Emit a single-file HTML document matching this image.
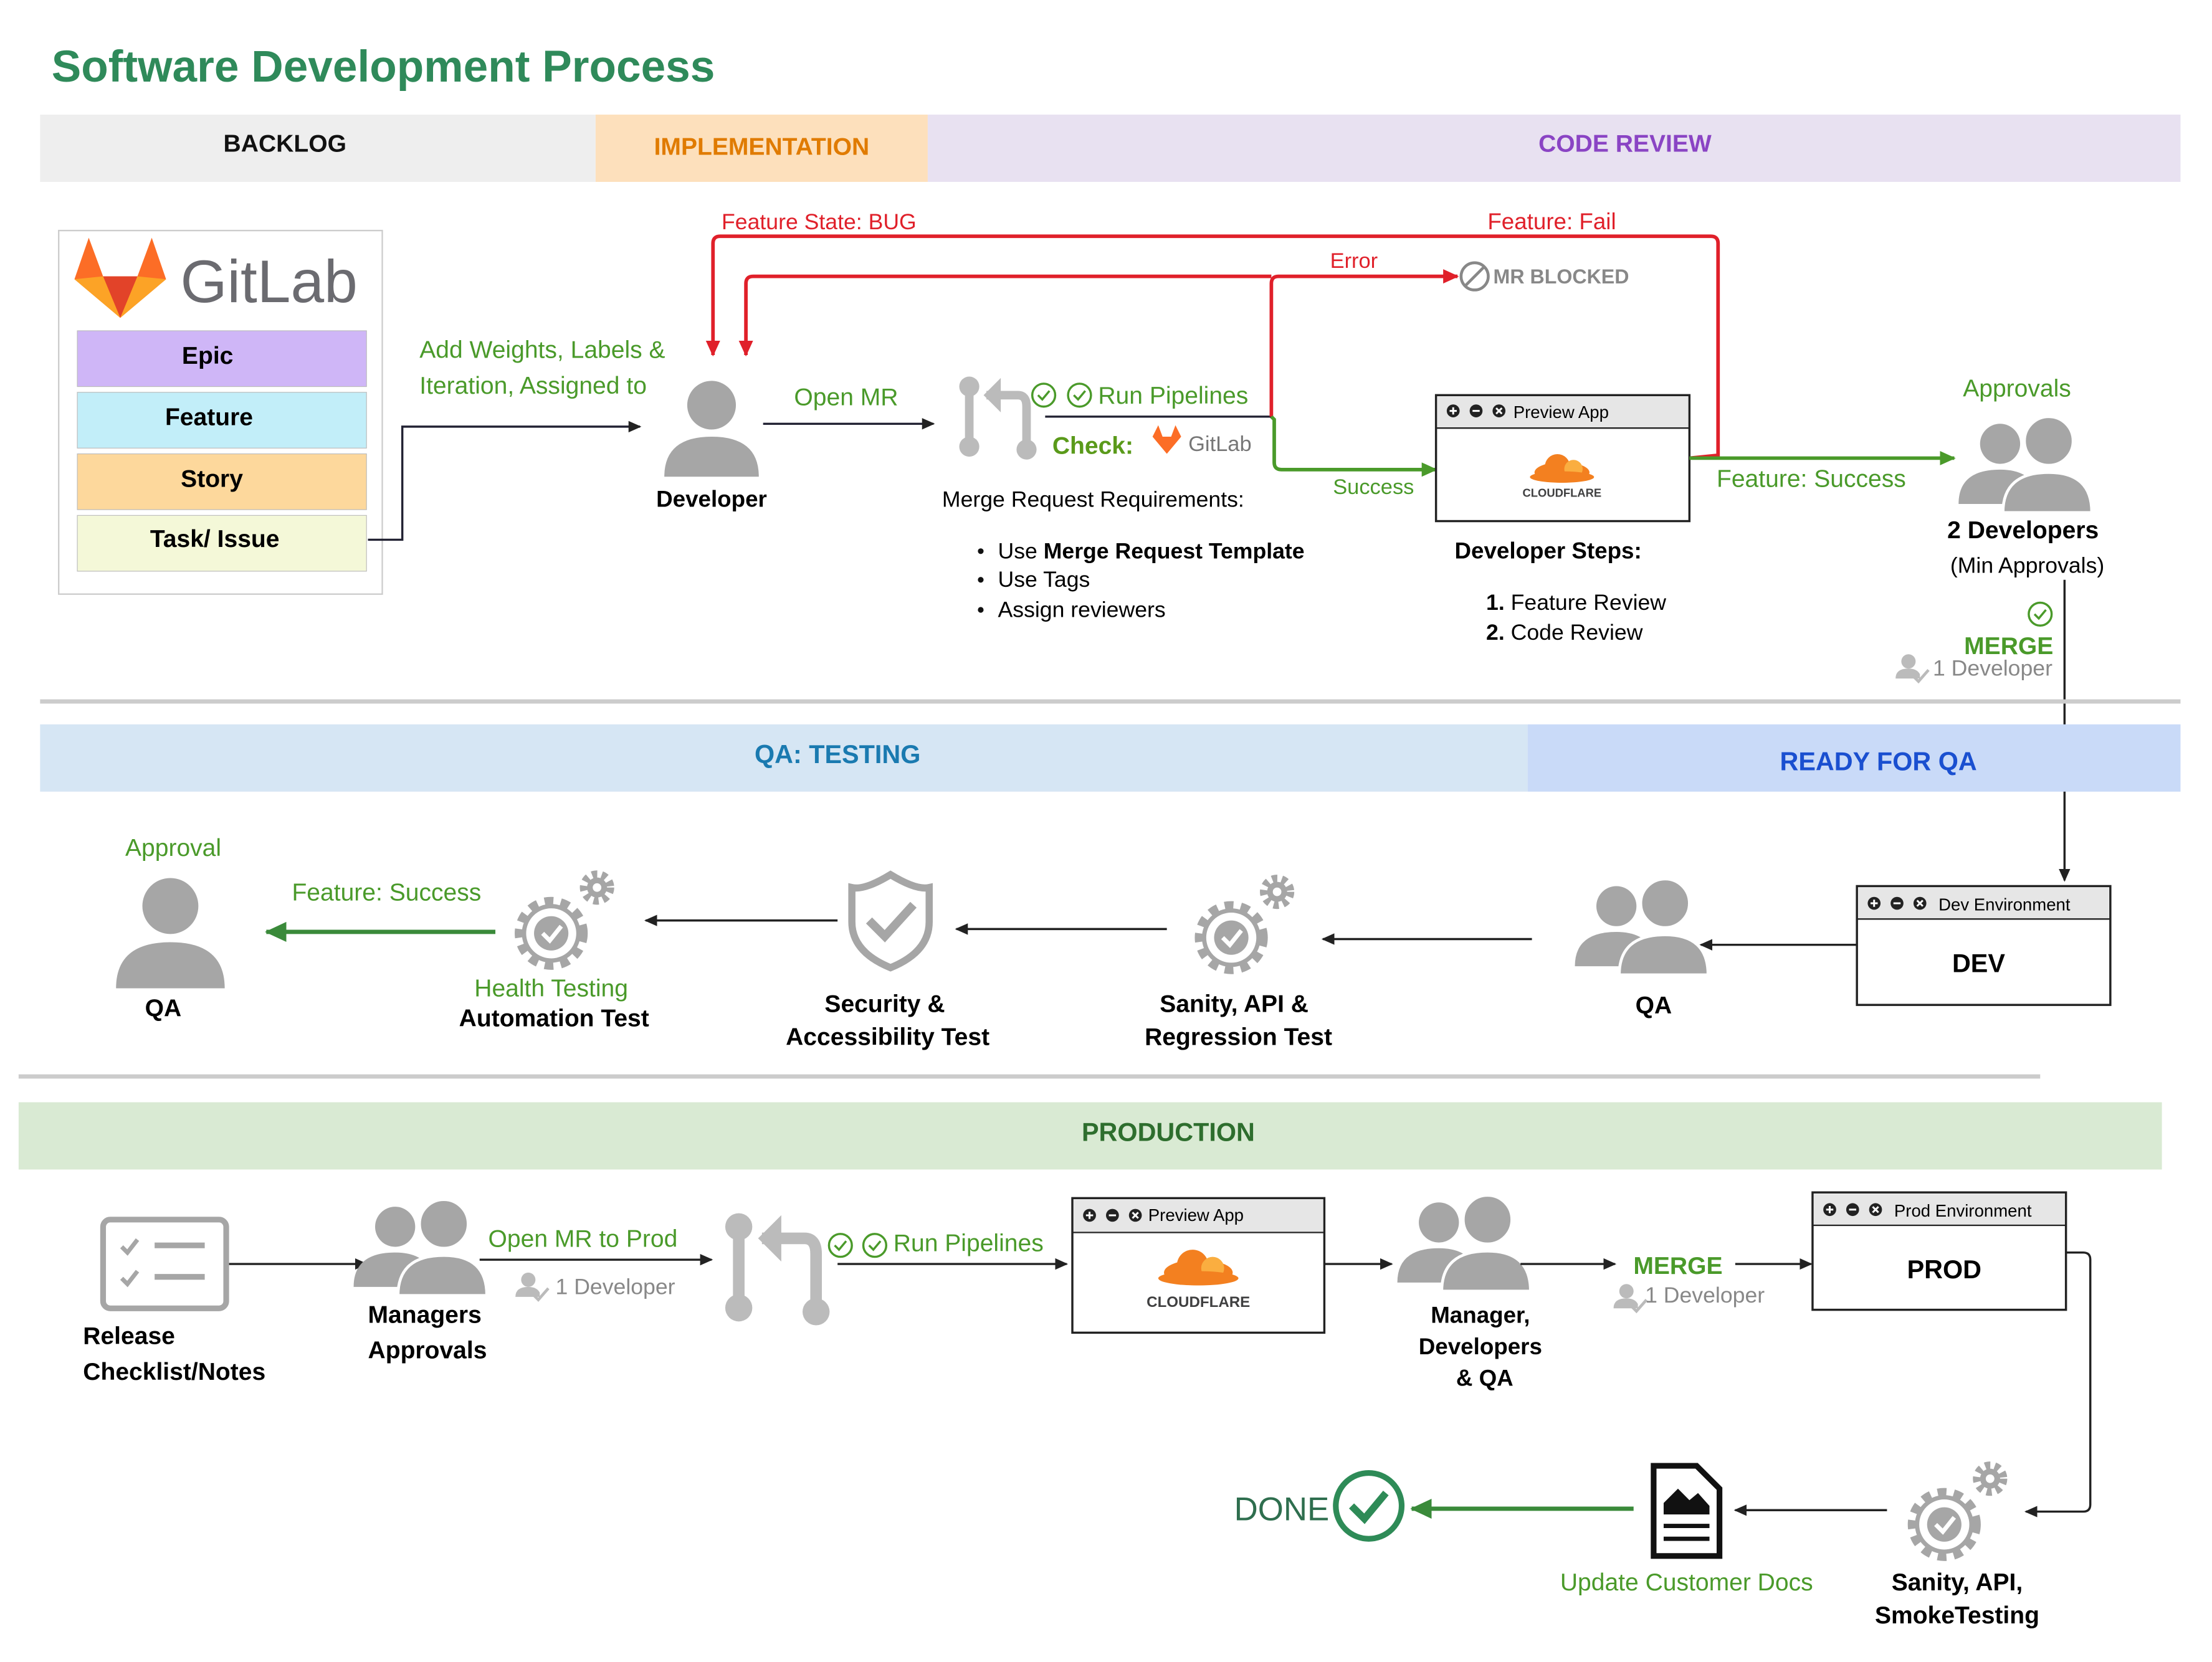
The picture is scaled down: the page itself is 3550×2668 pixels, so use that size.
<!DOCTYPE html>
<html><head><meta charset="utf-8"><style>
html,body{margin:0;padding:0;background:#fff}
svg{display:block}
text{font-family:"Liberation Sans",Arial,sans-serif}
</style></head><body>
<svg width="3550" height="2668" viewBox="0 0 1545 1161" xmlns="http://www.w3.org/2000/svg">
<defs>
<marker id="ad" markerWidth="10" markerHeight="10" refX="8" refY="5" orient="auto" markerUnits="userSpaceOnUse"><path d="M0,1 L9,5 L0,9 Z" fill="#222"/></marker>
<marker id="ag" markerWidth="12" markerHeight="12" refX="10" refY="6" orient="auto" markerUnits="userSpaceOnUse"><path d="M0,1 L11,6 L0,11 Z" fill="#4a9a2a"/></marker>
<marker id="agd" markerWidth="16" markerHeight="16" refX="14" refY="8" orient="auto" markerUnits="userSpaceOnUse"><path d="M0,1 L15,8 L0,15 Z" fill="#3a8a3a"/></marker>
<marker id="ar" markerWidth="12" markerHeight="12" refX="10" refY="6" orient="auto" markerUnits="userSpaceOnUse"><path d="M0,1 L11,6 L0,11 Z" fill="#e0202a"/></marker>
<g id="person"><circle cx="0" cy="-14" r="17" fill="#a6a6a6"/><path d="M-33,36 Q-33,8 0,8 Q33,8 33,36 Z" fill="#a6a6a6"/></g>
<g id="two"><circle cx="-16" cy="-12" r="14" fill="#a6a6a6"/><path d="M-45,30 Q-45,6 -16,6 Q10,6 12,30 Z" fill="#a6a6a6"/><circle cx="18" cy="-14" r="17" fill="#a6a6a6" stroke="#fff" stroke-width="2"/><path d="M-14,36 Q-14,8 18,8 Q48,8 48,36 Z" fill="#a6a6a6" stroke="#fff" stroke-width="2"/></g>
<g id="gear"><circle cx="0" cy="0" r="22" fill="none" stroke="#a6a6a6" stroke-width="7" stroke-dasharray="6 5"/><circle cx="0" cy="0" r="19" fill="#fff" stroke="#a6a6a6" stroke-width="3"/><circle cx="0" cy="0" r="12" fill="#a6a6a6"/><path d="M-6,0 L-1,5 L7,-5" stroke="#fff" stroke-width="3" fill="none"/><circle cx="32" cy="-32" r="9" fill="none" stroke="#a6a6a6" stroke-width="6" stroke-dasharray="3.5 3"/><circle cx="32" cy="-32" r="7" fill="#a6a6a6"/><circle cx="32" cy="-32" r="3" fill="#fff"/></g>
<g id="chk"><circle cx="0" cy="0" r="8" fill="none" stroke="#4a9a2a" stroke-width="1.5"/><path d="M-4,0 L-1,3 L4,-3" stroke="#4a9a2a" stroke-width="1.5" fill="none"/></g>
<g id="pchk"><circle cx="0" cy="-4" r="5" fill="#bbb"/><path d="M-9,8 Q-9,1 0,1 Q6,1 8,5 L8,8 Z" fill="#bbb"/><path d="M3,6 L7,10 L14,2" stroke="#bbb" stroke-width="2" fill="none"/></g>
<g id="cf"><ellipse cx="0" cy="0" rx="24" ry="9" fill="#f38020"/><circle cx="-4" cy="-5" r="11" fill="#f38020"/><circle cx="10" cy="-3" r="8" fill="#faae40"/><ellipse cx="0" cy="4" rx="28" ry="5" fill="#f38020"/></g>
<g id="merge"><circle cx="0" cy="0" r="7" fill="#bbb"/><rect x="-3" y="0" width="6" height="40" fill="#bbb"/><circle cx="0" cy="42" r="7" fill="#bbb"/><path d="M12,6 L34,6 Q40,6 40,14 L40,42" stroke="#bbb" stroke-width="6" fill="none"/><path d="M10,6 L22,-6 L22,18 Z" fill="#bbb"/><circle cx="40" cy="44" r="7" fill="#bbb"/></g>
<g id="btns"><circle cx="0" cy="0" r="4.5" fill="#222"/><path d="M-2.5,0 H2.5 M0,-2.5 V2.5" stroke="#fff" stroke-width="1.3"/><circle cx="16" cy="0" r="4.5" fill="#222"/><path d="M13.5,0 H18.5" stroke="#fff" stroke-width="1.3"/><circle cx="32" cy="0" r="4.5" fill="#222"/><path d="M30,-2 L34,2 M34,-2 L30,2" stroke="#fff" stroke-width="1.3"/></g>
</defs>

<text x="36" y="57" font-size="31" font-weight="bold" fill="#2f8a5a">Software Development Process</text>

<rect x="28" y="80" width="388" height="47" fill="#eeeeee"/>
<rect x="416" y="80" width="232" height="47" fill="#fde0bc"/>
<rect x="648" y="80" width="875" height="47" fill="#e8e1f1"/>
<text x="199" y="106" font-size="17" font-weight="bold" text-anchor="middle" fill="#111">BACKLOG</text>
<text x="532" y="108" font-size="17" font-weight="bold" text-anchor="middle" fill="#e07b00">IMPLEMENTATION</text>
<text x="1135" y="106" font-size="17" font-weight="bold" text-anchor="middle" fill="#8a44c4">CODE REVIEW</text>

<rect x="41" y="161" width="226" height="254" fill="#fff" stroke="#ccc"/>
<path d="M52,195 L62,166 L72,193 L96,193 L106,166 L116,195 L84,222 Z" fill="#fc6d26"/>
<path d="M72,193 L84,222 L96,193 Z" fill="#e24329"/>
<path d="M52,195 L72,193 L84,222 Z" fill="#fca326"/>
<path d="M116,195 L96,193 L84,222 Z" fill="#fca326"/>
<text x="126" y="211" font-size="42" fill="#6b6b70">GitLab</text>
<rect x="54" y="231" width="202" height="39" fill="#cfb6f7" stroke="#bbb" stroke-width="0.5"/>
<rect x="54" y="274" width="202" height="39" fill="#c2eef9" stroke="#bbb" stroke-width="0.5"/>
<rect x="54" y="317" width="202" height="39" fill="#fdd89c" stroke="#bbb" stroke-width="0.5"/>
<rect x="54" y="360" width="202" height="39" fill="#f4f8d8" stroke="#bbb" stroke-width="0.5"/>
<text x="145" y="254" font-size="17" font-weight="bold" text-anchor="middle">Epic</text>
<text x="146" y="297" font-size="17" font-weight="bold" text-anchor="middle">Feature</text>
<text x="148" y="340" font-size="17" font-weight="bold" text-anchor="middle">Story</text>
<text x="150" y="382" font-size="17" font-weight="bold" text-anchor="middle">Task/ Issue</text>
<path d="M257,377 L281,377 L281,298 L447,298" stroke="#223" stroke-width="1.5" fill="none" marker-end="url(#ad)"/>
<text x="293" y="250" font-size="17" fill="#4a9a2a">Add Weights, Labels &amp;</text>
<text x="293" y="275" font-size="17" fill="#4a9a2a">Iteration, Assigned to</text>

<use href="#person" x="497" y="297"/>
<text x="497" y="354" font-size="16" font-weight="bold" text-anchor="middle">Developer</text>
<text x="591" y="283" font-size="17" fill="#4a9a2a" text-anchor="middle">Open MR</text>
<path d="M533,296 L652,296" stroke="#223" stroke-width="1.5" marker-end="url(#ad)"/>

<use href="#merge" x="677" y="270"/>
<use href="#chk" x="729" y="276"/><use href="#chk" x="754" y="276"/>
<text x="767" y="282" font-size="17" fill="#4a9a2a">Run Pipelines</text>
<path d="M730,291 L888,291" stroke="#223" stroke-width="1.5"/>
<text x="735" y="317" font-size="17" font-weight="bold" fill="#5a9a1a">Check:</text>
<path d="M805,305 L809,297 L812,305 L818,305 L821,297 L825,305 L815,317 Z" fill="#fc6d26"/>
<text x="830" y="315" font-size="15" fill="#777">GitLab</text>
<text x="658" y="354" font-size="15.5">Merge Request Requirements:</text>
<circle cx="685" cy="385" r="2" fill="#111"/><circle cx="685" cy="405" r="2" fill="#111"/><circle cx="685" cy="426" r="2" fill="#111"/>
<text x="697" y="390" font-size="15.5">Use <tspan font-weight="bold">Merge Request Template</tspan></text>
<text x="697" y="410" font-size="15.5">Use Tags</text>
<text x="697" y="431" font-size="15.5">Assign reviewers</text>

<path d="M1180,320 L1200,318 L1200,170 Q1200,165 1195,165 L503,165 Q498,165 498,170 L498,248" stroke="#e0202a" stroke-width="2.5" fill="none" marker-end="url(#ar)"/>
<path d="M888,291 L888,198 Q888,193 893,193 L1018,193" stroke="#e0202a" stroke-width="2.5" fill="none" marker-end="url(#ar)"/>
<path d="M888,193 L526,193 Q521,193 521,198 L521,248" stroke="#e0202a" stroke-width="2.5" fill="none" marker-end="url(#ar)"/>
<text x="504" y="160" font-size="15.5" fill="#e0202a">Feature State: BUG</text>
<text x="1039" y="160" font-size="16" fill="#e0202a">Feature: Fail</text>
<text x="929" y="187" font-size="15" fill="#e0202a">Error</text>
<circle cx="1030" cy="193" r="9.5" fill="none" stroke="#888" stroke-width="2"/><path d="M1023,200 L1037,186" stroke="#888" stroke-width="2"/>
<text x="1043" y="198" font-size="14" font-weight="bold" fill="#888">MR BLOCKED</text>

<path d="M888,291 L890,293 L890,323 Q890,328 895,328 L1003,328" stroke="#4a9a2a" stroke-width="2.5" fill="none" marker-end="url(#ag)"/>
<text x="931" y="345" font-size="15" fill="#4a9a2a">Success</text>

<rect x="1003" y="276" width="177" height="88" fill="#fff" stroke="#222" stroke-width="1.5"/>
<rect x="1004" y="277" width="175" height="22" fill="#e6e6e6"/>
<line x1="1003" y1="299" x2="1180" y2="299" stroke="#222"/>
<use href="#btns" x="1015" y="287"/>
<text x="1057" y="292" font-size="12">Preview App</text>
<g transform="translate(1091 330) scale(0.8)"><use href="#cf"/></g>
<text x="1091" y="347" font-size="8" font-weight="bold" text-anchor="middle" fill="#404041">CLOUDFLARE</text>
<text x="1016" y="390" font-size="16" font-weight="bold">Developer Steps:</text>
<text x="1038" y="426" font-size="15.5"><tspan font-weight="bold">1.</tspan> Feature Review</text>
<text x="1038" y="447" font-size="15.5"><tspan font-weight="bold">2.</tspan> Code Review</text>

<path d="M1180,320 L1365,320" stroke="#4a9a2a" stroke-width="2.5" marker-end="url(#ag)"/>
<text x="1199" y="340" font-size="17" fill="#4a9a2a">Feature: Success</text>
<text x="1371" y="277" font-size="17" fill="#4a9a2a">Approvals</text>
<use href="#two" x="1413" y="322"/>
<text x="1413" y="376" font-size="17" font-weight="bold" text-anchor="middle">2 Developers</text>
<text x="1416" y="400" font-size="15.5" text-anchor="middle">(Min Approvals)</text>
<use href="#chk" x="1425" y="429"/>
<text x="1403" y="457" font-size="17" font-weight="bold" fill="#4a9a2a" text-anchor="middle">MERGE</text>
<use href="#pchk" x="1333" y="466"/>
<text x="1350" y="472" font-size="15.5" fill="#888">1 Developer</text>
<path d="M1442,405 L1442,615" stroke="#222" stroke-width="1.5" marker-end="url(#ad)"/>

<line x1="28" y1="490" x2="1523" y2="490" stroke="#ccc" stroke-width="3"/>
<rect x="28" y="506" width="1039" height="47" fill="#d6e6f4"/>
<rect x="1067" y="506" width="456" height="47" fill="#c9daf8"/>
<text x="585" y="533" font-size="18" font-weight="bold" fill="#1a7ab0" text-anchor="middle">QA: TESTING</text>
<text x="1312" y="538" font-size="18" font-weight="bold" fill="#1a4fd0" text-anchor="middle">READY FOR QA</text>

<rect x="1297" y="619" width="177" height="83" fill="#fff" stroke="#222" stroke-width="1.5"/>
<rect x="1298" y="620" width="175" height="22" fill="#e6e6e6"/>
<line x1="1297" y1="642" x2="1474" y2="642" stroke="#222"/>
<use href="#btns" x="1309" y="631"/>
<text x="1354" y="636" font-size="12">Dev Environment</text>
<text x="1382" y="679" font-size="18" font-weight="bold" text-anchor="middle">DEV</text>
<path d="M1297,660 L1188,660" stroke="#222" stroke-width="1.5" marker-end="url(#ad)"/>
<use href="#two" x="1145" y="645"/>
<text x="1155" y="708" font-size="17" font-weight="bold" text-anchor="middle">QA</text>
<path d="M1070,656 L924,656" stroke="#222" stroke-width="1.5" marker-end="url(#ad)"/>
<use href="#gear" x="860" y="655"/>
<text x="862" y="707" font-size="17" font-weight="bold" text-anchor="middle">Sanity, API &amp;</text>
<text x="865" y="730" font-size="17" font-weight="bold" text-anchor="middle">Regression Test</text>
<path d="M815,649 L668,649" stroke="#222" stroke-width="1.5" marker-end="url(#ad)"/>
<path d="M622,611 Q640,622 649,620 L649,644 Q649,665 622,676 Q595,665 595,644 L595,620 Q604,622 622,611 Z" fill="#fff" stroke="#a6a6a6" stroke-width="5"/>
<path d="M607,643 L618,654 L638,632" stroke="#a6a6a6" stroke-width="6" fill="none"/>
<text x="618" y="707" font-size="17" font-weight="bold" text-anchor="middle">Security &amp;</text>
<text x="620" y="730" font-size="17" font-weight="bold" text-anchor="middle">Accessibility Test</text>
<path d="M585,643 L451,643" stroke="#222" stroke-width="1.5" marker-end="url(#ad)"/>
<use href="#gear" x="385" y="652"/>
<text x="385" y="696" font-size="17" fill="#4a9a2a" text-anchor="middle">Health Testing</text>
<text x="387" y="717" font-size="17" font-weight="bold" text-anchor="middle">Automation Test</text>
<path d="M346,651 L186,651" stroke="#3a8a3a" stroke-width="3" marker-end="url(#agd)"/>
<text x="270" y="629" font-size="17" fill="#4a9a2a" text-anchor="middle">Feature: Success</text>
<text x="121" y="598" font-size="17" fill="#4a9a2a" text-anchor="middle">Approval</text>
<g transform="translate(119 649) scale(1.15)"><use href="#person"/></g>
<text x="114" y="710" font-size="17" font-weight="bold" text-anchor="middle">QA</text>

<line x1="13" y1="752" x2="1425" y2="752" stroke="#ccc" stroke-width="3"/>
<rect x="13" y="770" width="1497" height="47" fill="#d9ead3"/>
<text x="816" y="797" font-size="18" font-weight="bold" fill="#2e6e2e" text-anchor="middle">PRODUCTION</text>

<rect x="72" y="852" width="86" height="62" rx="5" fill="#fff" stroke="#a6a6a6" stroke-width="4"/>
<path d="M85,871 L89,875 L96,866 M85,893 L89,897 L96,888" stroke="#a6a6a6" stroke-width="3" fill="none"/>
<line x1="108" y1="870" x2="143" y2="870" stroke="#a6a6a6" stroke-width="4"/>
<line x1="108" y1="892" x2="143" y2="892" stroke="#a6a6a6" stroke-width="4"/>
<text x="58" y="939" font-size="17" font-weight="bold">Release</text>
<text x="58" y="964" font-size="17" font-weight="bold">Checklist/Notes</text>
<path d="M160,883 L256,883" stroke="#222" stroke-width="1.5" marker-end="url(#ad)"/>
<use href="#two" x="292" y="869"/>
<text x="257" y="924" font-size="17" font-weight="bold">Managers</text>
<text x="257" y="949" font-size="17" font-weight="bold">Approvals</text>
<text x="341" y="871" font-size="17" fill="#4a9a2a">Open MR to Prod</text>
<path d="M335,880 L497,880" stroke="#222" stroke-width="1.5" marker-end="url(#ad)"/>
<use href="#pchk" x="369" y="898"/>
<text x="388" y="904" font-size="15.5" fill="#888">1 Developer</text>
<g transform="translate(516 857) scale(1.35)"><use href="#merge"/></g>
<use href="#chk" x="587" y="870"/><use href="#chk" x="611" y="870"/>
<text x="624" y="874" font-size="17" fill="#4a9a2a">Run Pipelines</text>
<path d="M585,883 L745,883" stroke="#222" stroke-width="1.5" marker-end="url(#ad)"/>
<rect x="749" y="837" width="176" height="94" fill="#fff" stroke="#222" stroke-width="1.5"/>
<rect x="750" y="838" width="174" height="23" fill="#e6e6e6"/>
<line x1="749" y1="861" x2="925" y2="861" stroke="#222"/>
<use href="#btns" x="761" y="849"/>
<text x="802" y="853" font-size="12">Preview App</text>
<use href="#cf" x="837" y="889"/>
<text x="837" y="913" font-size="10.5" font-weight="bold" text-anchor="middle" fill="#404041">CLOUDFLARE</text>
<path d="M925,883 L972,883" stroke="#222" stroke-width="1.5" marker-end="url(#ad)"/>
<use href="#two" x="1021" y="866"/>
<text x="1034" y="924" font-size="16" font-weight="bold" text-anchor="middle">Manager,</text>
<text x="1034" y="946" font-size="16" font-weight="bold" text-anchor="middle">Developers</text>
<text x="1037" y="968" font-size="16" font-weight="bold" text-anchor="middle">&amp; QA</text>
<path d="M1062,883 L1128,883" stroke="#222" stroke-width="1.5" marker-end="url(#ad)"/>
<text x="1172" y="890" font-size="17" font-weight="bold" fill="#4a9a2a" text-anchor="middle">MERGE</text>
<use href="#pchk" x="1136" y="906"/>
<text x="1149" y="910" font-size="15.5" fill="#888">1 Developer</text>
<path d="M1212,883 L1265,883" stroke="#222" stroke-width="1.5" marker-end="url(#ad)"/>
<rect x="1266" y="833" width="177" height="82" fill="#fff" stroke="#222" stroke-width="1.5"/>
<rect x="1267" y="834" width="175" height="22" fill="#e6e6e6"/>
<line x1="1266" y1="856" x2="1443" y2="856" stroke="#222"/>
<use href="#btns" x="1278" y="845"/>
<text x="1323" y="850" font-size="12">Prod Environment</text>
<text x="1358" y="893" font-size="18" font-weight="bold" text-anchor="middle">PROD</text>
<path d="M1443,875 L1455,875 Q1460,875 1460,880 L1460,1051 Q1460,1056 1455,1056 L1415,1056" stroke="#222" stroke-width="1.5" fill="none" marker-end="url(#ad)"/>
<use href="#gear" x="1358" y="1065"/>
<text x="1367" y="1111" font-size="17" font-weight="bold" text-anchor="middle">Sanity, API,</text>
<text x="1367" y="1134" font-size="17" font-weight="bold" text-anchor="middle">SmokeTesting</text>
<path d="M1318,1055 L1212,1055" stroke="#222" stroke-width="1.5" marker-end="url(#ad)"/>
<path d="M1155,1024 L1185,1024 L1201,1040 L1201,1087 L1155,1087 Z" fill="#fff" stroke="#111" stroke-width="4"/>
<path d="M1162,1050 L1172,1040 L1180,1048 L1186,1043 L1194,1052 L1194,1058 L1162,1058 Z" fill="#111"/>
<line x1="1162" y1="1066" x2="1194" y2="1066" stroke="#111" stroke-width="3"/>
<line x1="1162" y1="1075" x2="1194" y2="1075" stroke="#111" stroke-width="3"/>
<text x="1178" y="1111" font-size="17" fill="#4a9a2a" text-anchor="middle">Update Customer Docs</text>
<path d="M1141,1054 L986,1054" stroke="#3a8a3a" stroke-width="3" marker-end="url(#agd)"/>
<circle cx="956" cy="1052" r="23" fill="none" stroke="#2e8b57" stroke-width="4"/>
<path d="M944,1052 L953,1061 L968,1043" stroke="#2e8b57" stroke-width="5" fill="none"/>
<text x="862" y="1062" font-size="23" fill="#2e6e4e">DONE</text>
</svg>
</body></html>
